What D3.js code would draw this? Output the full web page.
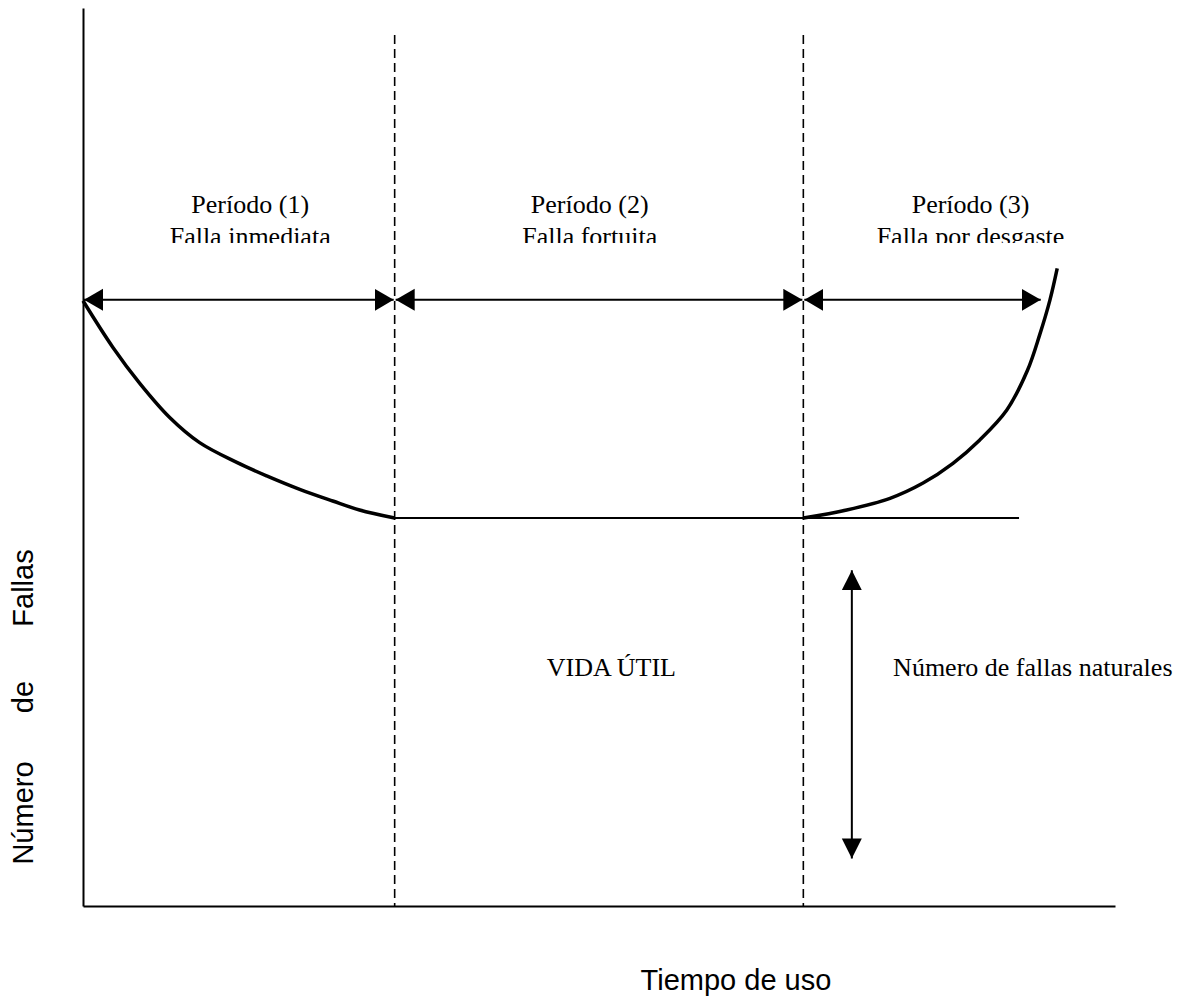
<!DOCTYPE html>
<html>
<head>
<meta charset="utf-8">
<script src="https://cdn.jsdelivr.net/npm/d3@7"></script>
<style>
  body { margin: 0; background: #fff; }
  .serif { font-family: "Liberation Serif", "Times New Roman", serif; fill: #000; }
  .sans { font-family: "Liberation Sans", Arial, sans-serif; fill: #000; }
</style>
</head>
<body>
<svg id="chart" width="1178" height="998"></svg>
<script>
// bathtub curve: time of use (0-100) vs number of failures (0-100)
const periodTitles = ["Período (1)", "Período (2)", "Período (3)"];
const periodSubtitles = ["Falla inmediata", "Falla fortuita", "Falla por desgaste"];
const periodLimits = [0, 30.2, 69.8];      // dashed boundaries
const arrowEnd = 92.9;                      // end of the last period arrow
const arrowLevel = 67.5;

const infantTime = [0, 2.9, 5.5, 8.4, 11.3, 14.9, 17.8, 21.0, 24.2, 26.8, 30.2];
const infantFails = [67.4, 62.2, 58.2, 54.4, 51.6, 49.4, 47.9, 46.4, 45.1, 44.1, 43.2];
const wearTime = [69.8, 74.0, 78.2, 81.4, 84.3, 86.9, 89.5, 91.5, 92.7, 93.7, 94.4];
const wearFails = [43.2, 44.1, 45.4, 47.1, 49.3, 51.9, 55.2, 59.6, 63.6, 67.5, 71.0];
const usefulLevel = 43.2;
const usefulEnd = 90.7;
const naturalRange = [37.4, 5.3];            // "Número de fallas naturales" arrow
const naturalTime = 74.5;

const yLabelWords = ["Número", "de", "Fallas"];

var svgWidth = 1178, svgHeight = 998;
var margin = { top: 8, right: 63, bottom: 92, left: 83 };
var width = svgWidth - margin.left - margin.right;
var height = svgHeight - margin.top - margin.bottom;

var svg = d3.select("#chart");
svg.append("rect").attr("width", svgWidth).attr("height", svgHeight).attr("fill", "#fff");

var defs = svg.append("defs");
defs.append("marker")
    .attr("id", "head")
    .attr("markerUnits", "userSpaceOnUse")
    .attr("markerWidth", 20).attr("markerHeight", 24)
    .attr("refX", 19).attr("refY", 11)
    .attr("orient", "auto-start-reverse")
    .append("path")
    .attr("d", "M0,0 L19,11 L0,22 Z")
    .attr("fill", "#000");
defs.append("marker")
    .attr("id", "headV")
    .attr("markerUnits", "userSpaceOnUse")
    .attr("markerWidth", 22).attr("markerHeight", 22)
    .attr("refX", 20).attr("refY", 10)
    .attr("orient", "auto-start-reverse")
    .append("path")
    .attr("d", "M0,0 L20,10 L0,20 Z")
    .attr("fill", "#000");
// the scanned subtitles are cut off at their baseline
defs.append("clipPath")
    .attr("id", "cutSub")
    .append("rect")
    .attr("x", 0).attr("y", 0).attr("width", svgWidth).attr("height", 243);

var g = svg.append("g")
    .attr("transform", "translate(" + margin.left + "," + margin.top + ")");

var x = d3.scaleLinear().domain([0, 100]).range([0, width]);
var y = d3.scaleLinear().domain([0, 100]).range([height, 0]);

// axes without ticks
g.append("g")
    .attr("transform", "translate(0," + height + ")")
    .call(d3.axisBottom(x).tickValues([]).tickSizeOuter(0))
    .select(".domain").attr("stroke-width", 2);
g.append("g")
    .call(d3.axisLeft(y).tickValues([]).tickSizeOuter(0))
    .select(".domain").attr("stroke-width", 2);

// dashed period boundaries
g.selectAll(".bound")
    .data(periodLimits.slice(1))
    .enter().append("line")
    .attr("class", "bound")
    .attr("x1", d => x(d)).attr("x2", d => x(d))
    .attr("y1", y(97)).attr("y2", y(0))
    .attr("stroke", "#000")
    .attr("stroke-width", 1.6)
    .attr("stroke-dasharray", "9,5");

// curve pieces
var line = d3.line()
    .x(d => x(d[0]))
    .y(d => y(d[1]))
    .curve(d3.curveCatmullRom.alpha(0.5));

g.append("path")
    .datum(infantTime.map((t, i) => [t, infantFails[i]]))
    .attr("fill", "none").attr("stroke", "#000").attr("stroke-width", 3.5)
    .attr("d", line);
g.append("path")
    .datum(wearTime.map((t, i) => [t, wearFails[i]]))
    .attr("fill", "none").attr("stroke", "#000").attr("stroke-width", 3.5)
    .attr("d", line);
g.append("path")
    .datum([[periodLimits[1], usefulLevel], [usefulEnd, usefulLevel]])
    .attr("fill", "none").attr("stroke", "#000").attr("stroke-width", 2)
    .attr("d", d3.line().x(d => x(d[0])).y(d => y(d[1])));

// period arrows
var ends = periodLimits.slice(1).concat([arrowEnd]);
g.selectAll(".period-arrow")
    .data(periodLimits)
    .enter().append("line")
    .attr("class", "period-arrow")
    .attr("x1", (d, i) => x(d) + 1).attr("x2", (d, i) => x(ends[i]) - 1)
    .attr("y1", y(arrowLevel)).attr("y2", y(arrowLevel))
    .attr("stroke", "#000").attr("stroke-width", 2)
    .attr("marker-start", "url(#head)")
    .attr("marker-end", "url(#head)");

// period labels
var titleX = [16.2, 49.1, 86.0];
var titles = g.selectAll(".period-title")
    .data(periodTitles)
    .enter().append("g")
    .attr("transform", (d, i) => "translate(" + x(titleX[i]) + ",0)");
titles.append("text")
    .attr("class", "serif")
    .attr("text-anchor", "middle")
    .attr("y", y(arrowLevel) - 87)
    .attr("font-size", 26)
    .text(d => d);
svg.append("g")
    .attr("clip-path", "url(#cutSub)")
    .append("g")
    .attr("transform", "translate(" + margin.left + "," + margin.top + ")")
    .selectAll("text")
    .data(periodSubtitles)
    .enter().append("text")
    .attr("class", "serif")
    .attr("text-anchor", "middle")
    .attr("x", (d, i) => x(titleX[i]))
    .attr("y", y(arrowLevel) - 55)
    .attr("font-size", 26)
    .text(d => d);

// natural failures arrow
g.append("line")
    .attr("x1", x(naturalTime)).attr("x2", x(naturalTime))
    .attr("y1", y(naturalRange[0])).attr("y2", y(naturalRange[1]))
    .attr("stroke", "#000").attr("stroke-width", 2)
    .attr("marker-start", "url(#headV)")
    .attr("marker-end", "url(#headV)");

g.append("text")
    .attr("class", "serif")
    .attr("x", x(51.2)).attr("y", y(25.6))
    .attr("text-anchor", "middle")
    .attr("font-size", 26)
    .text("VIDA ÚTIL");
g.append("text")
    .attr("class", "serif")
    .attr("x", x(78.5)).attr("y", y(25.6))
    .attr("font-size", 26)
    .text("Número de fallas naturales");

// axis titles
var wordPos = [813, 697, 588];
svg.selectAll(".ylab")
    .data(yLabelWords)
    .enter().append("text")
    .attr("class", "sans ylab")
    .attr("font-size", 29)
    .attr("text-anchor", "middle")
    .attr("transform", (d, i) => "translate(33," + wordPos[i] + ") rotate(-90)")
    .text(d => d);

svg.append("text")
    .attr("class", "sans")
    .attr("x", 736).attr("y", 990)
    .attr("text-anchor", "middle")
    .attr("font-size", 29)
    .text("Tiempo de uso");
</script>
</body>
</html>
